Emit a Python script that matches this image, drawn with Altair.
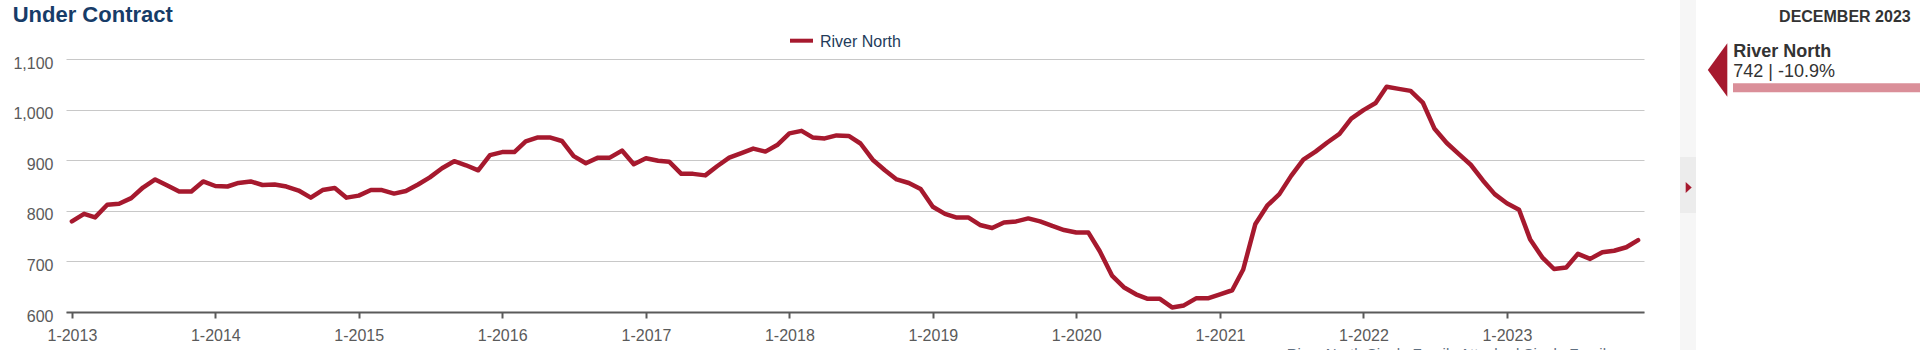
import altair as alt
import pandas as pd

# ---- data -------------------------------------------------------------
months = pd.date_range("2013-01-01", periods=132, freq="MS")
under_contract = [
    779, 794, 787, 812, 814, 825, 846, 862, 850, 838, 838, 858,   # 2013
    849, 848, 855, 858, 851, 852, 848, 840, 826, 841, 845, 826,   # 2014
    830, 841, 841, 834, 839, 852, 866, 884, 898, 890, 880, 910,   # 2015
    916, 916, 937, 945, 945, 938, 908, 894, 905, 905, 919, 892,   # 2016
    904, 899, 897, 873, 873, 870, 888, 905, 914, 923, 917, 930,   # 2017
    953, 958, 945, 943, 949, 948, 933, 901, 880, 862, 855, 843,   # 2018
    808, 794, 787, 787, 772, 766, 777, 779, 785, 779, 770, 762,   # 2019
    757, 757, 720, 672, 649, 635, 626, 626, 609, 613, 627, 627,   # 2020
    635, 643, 684, 774, 810, 833, 869, 901, 917, 935, 952, 982,   # 2021
    999, 1013, 1045, 1041, 1037, 1014, 962, 934, 912, 891, 860, 833,  # 2022
    815, 802, 744, 708, 685, 688, 715, 705, 718, 721, 728, 742,   # 2023
]
y_ticks = [600, 700, 800, 900, 1000, 1100]
series_name = "River North"
chart_title = "Under Contract"
panel_date = "DECEMBER 2023"
panel_value = "742 | -10.9%"
footnote = "River North Single Family Attached Single Family"

df = pd.DataFrame({"date": months, "value": under_contract})
one = pd.DataFrame({"k": [0]})

RED = "#a6192e"
PINK = "#da8f99"
NAVY = "#173c68"
DARK = "#333333"
AXIS = "#5a5a5a"
FONT = "Liberation Sans"

# ---- main line --------------------------------------------------------
line = alt.Chart(df).mark_line(
    color=RED, strokeWidth=4.5, strokeJoin="round", strokeCap="round"
).encode(
    x=alt.X(
        "date:T",
        scale=alt.Scale(domain=[alt.DateTime(year=2012, month=12, date=17),
                                alt.DateTime(year=2023, month=12, date=16)]),
        axis=alt.Axis(title=None, format="%-m-%Y", tickCount="year", grid=False,
                      domainColor=AXIS, domainWidth=2, tickColor=AXIS, tickWidth=2,
                      tickSize=6, labelFontSize=16, labelColor=AXIS, labelPadding=9,
                      labelFlush=False, labelFont=FONT),
    ),
    y=alt.Y(
        "value:Q",
        scale=alt.Scale(domain=[600, 1100], nice=False, zero=False),
        axis=alt.Axis(title=None, values=y_ticks, format=",.0f", domain=False, ticks=False,
                      grid=True, gridColor="#c8c8c8", gridWidth=1, labelFontSize=16,
                      labelColor=AXIS, labelPadding=13, labelOffset=4, labelFont=FONT),
    ),
)

def txt(text, x, y, size, color, weight="normal", align="left", baseline="alphabetic"):
    return alt.Chart(one).mark_text(
        text=text, fontSize=size, color=color, fontWeight=weight, align=align,
        baseline=baseline, font=FONT
    ).encode(x=alt.value(x), y=alt.value(y))

title = txt(chart_title, -53.3, -37.3, 22, NAVY, "bold")
legend_sym = alt.Chart(one).mark_rule(color=RED, strokeWidth=4).encode(
    x=alt.value(724), x2=alt.value(747), y=alt.value(-18.3))
legend_txt = txt(series_name, 754, -12.3, 16, "#233b5a")

strip = alt.Chart(one).mark_rect(color="#f6f6f6").encode(
    x=alt.value(1614), x2=alt.value(1630), y=alt.value(-59), y2=alt.value(291))
strip_box = alt.Chart(one).mark_rect(color="#ececec").encode(
    x=alt.value(1614), x2=alt.value(1630), y=alt.value(98), y2=alt.value(154))
strip_tri = alt.Chart(one).mark_point(
    shape="M -0.55 -1 L 0.55 0 L -0.55 1 Z", filled=True, size=121, color=RED, opacity=1
).encode(x=alt.value(1622.7), y=alt.value(128.5))

date_txt = txt(panel_date, 1844.7, -37.3, 16, DARK, "bold", align="right")
pointer = alt.Chart(one).mark_point(
    shape="M 1 -1 L 0.27 0 L 1 1 Z", filled=True, size=2852, color=RED, opacity=1
).encode(x=alt.value(1634.6), y=alt.value(11))
name_txt = txt(series_name, 1667.3, -2.3, 18, DARK, "bold")
value_txt = txt(panel_value, 1667.3, 17.7, 18, DARK)
pink_bar = alt.Chart(one).mark_rect(color=PINK).encode(
    x=alt.value(1667), x2=alt.value(1854), y=alt.value(24.3), y2=alt.value(33.3))
foot = txt(footnote, 1220.7, 288, 15, "#5f6f80", baseline="top")

chart = alt.layer(
    line, title, legend_sym, legend_txt, strip, strip_box, strip_tri,
    date_txt, pointer, name_txt, value_txt, pink_bar, foot
).properties(
    width=1578, height=253, autosize="none",
    padding={"left": 66, "top": 59, "right": 276, "bottom": 38},
    background="white",
).configure(font=FONT).configure_view(stroke=None)

chart.save("out.html", embed_options={"renderer": "svg", "actions": False})
